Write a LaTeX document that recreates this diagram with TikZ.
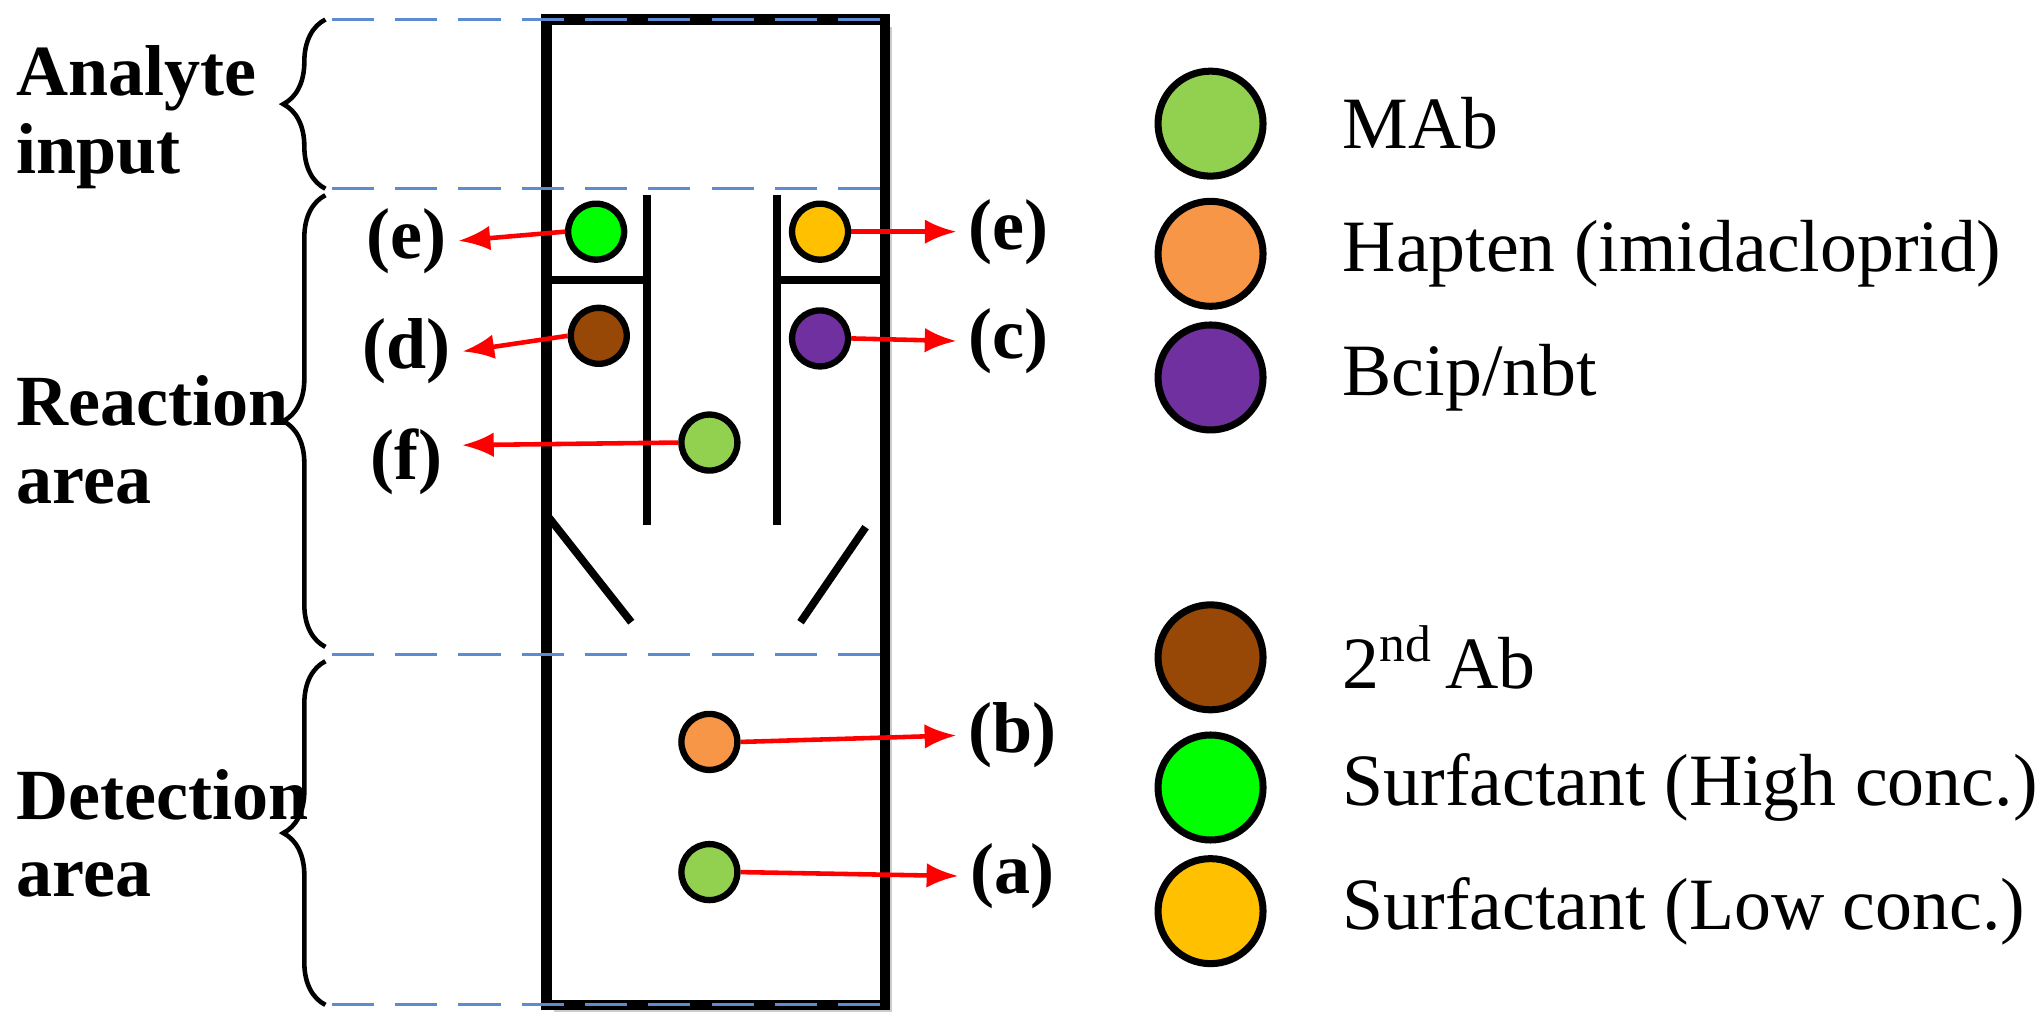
\documentclass[tikz,border=0pt]{standalone}
\usepackage{fontspec}
\setmainfont{Liberation Serif}
\usetikzlibrary{decorations.pathreplacing,shadows,arrows.meta}
\definecolor{lg}{HTML}{92D050}
\definecolor{og}{HTML}{F79646}
\definecolor{pu}{HTML}{7030A0}
\definecolor{bw}{HTML}{974706}
\definecolor{bg}{HTML}{00FF00}
\definecolor{yo}{HTML}{FFC000}
\definecolor{db}{HTML}{5B8BD0}
\begin{document}
\begin{tikzpicture}[x=0.013017cm,y=-0.013017cm,
  bluedash/.style={db,thick,dash pattern=on 12pt off 6pt},
  wall/.style={line width=2.2pt,black},
  sc/.style={circle,draw=black,line width=1.8pt,minimum size=0.56cm,inner sep=0pt},
  lc/.style={circle,draw=black,line width=2pt,minimum size=1.05cm,inner sep=0pt},
  arr/.style={red,line width=1.3pt,-{Latex[length=9pt,width=7pt]}},
  lab/.style={font=\fontsize{20.5}{22}\selectfont\bfseries},
  leg/.style={font=\fontsize{21}{24}\selectfont,anchor=west},
  brc/.style={decorate,decoration={brace,amplitude=12pt},line width=1.3pt}]
\useasboundingbox (0,0) rectangle (1568,794);
\draw[line width=3pt,fill=white,drop shadow={opacity=0.4,shadow xshift=2pt,shadow yshift=-2pt}] (420,15) rectangle (680,772);
\foreach \y in {15,145,503,772} \draw[bluedash] (255,\y) -- (685,\y);
\draw[wall] (420,215) -- (497,215);
\draw[wall] (497,150) -- (497,403);
\draw[wall] (597,150) -- (597,403);
\draw[wall] (597,215) -- (680,215);
\draw[wall] (422,398) -- (485,478);
\draw[wall] (665,405) -- (615,478);
\draw[brc] (250,145) -- (250,15);
\draw[brc] (250,497) -- (250,150);
\draw[brc] (250,772) -- (250,508);
\node[lab,align=left,anchor=west] (l1) at (3,90) {Analyte\\input};
\node[lab,align=left,anchor=west] (l2) at (3,338) {Reaction\\area};
\node[lab,align=left,anchor=west] (l3) at (3,640) {Detection\\area};
\node[sc,fill=bg] (c1) at (458,178) {};
\node[sc,fill=yo] (c2) at (630,178) {};
\node[sc,fill=bw] (c3) at (460,258) {};
\node[sc,fill=pu] (c4) at (630,260) {};
\node[sc,fill=lg] (c5) at (545,340) {};
\node[sc,fill=og] (c6) at (545,570) {};
\node[sc,fill=lg] (c7) at (545,670) {};
\node[lab] (e1) at (312,185) {(e)};
\node[lab] (e2) at (775,178) {(e)};
\node[lab] (d) at (312,270) {(d)};
\node[lab] (c) at (775,262) {(c)};
\node[lab] (f) at (312,355) {(f)};
\node[lab] (b) at (778,565) {(b)};
\node[lab] (a) at (778,673) {(a)};
\coordinate (fe) at (355,342);
\draw[arr] (c1.west) -- (e1.east);
\draw[arr] (c2.east) -- (e2.west);
\draw[arr] (c3.west) -- (d.east);
\draw[arr] (c4.east) -- (c.west);
\draw[arr] (c5.west) -- (fe);
\draw[arr] (c6.east) -- (b.west);
\draw[arr] (c7.east) -- (a.west);
\node[lc,fill=lg] (g1) at (930,95) {};
\node[lc,fill=og] (g2) at (930,195) {};
\node[lc,fill=pu] (g3) at (930,290) {};
\node[lc,fill=bw] (g4) at (930,505) {};
\node[lc,fill=bg] (g5) at (930,605) {};
\node[lc,fill=yo] (g6) at (930,700) {};
\node[leg] (t1) at (1022,95) {MAb};
\node[leg] (t2) at (1022,195) {Hapten (imidacloprid)};
\node[leg] (t3) at (1022,290) {Bcip/nbt};
\node[leg] (t4) at (1022,505) {2\textsuperscript{nd}\,Ab};
\node[leg] (t5) at (1022,605) {Surfactant (High conc.)};
\node[leg] (t6) at (1022,700) {Surfactant (Low conc.)};
\end{tikzpicture}
\end{document}
